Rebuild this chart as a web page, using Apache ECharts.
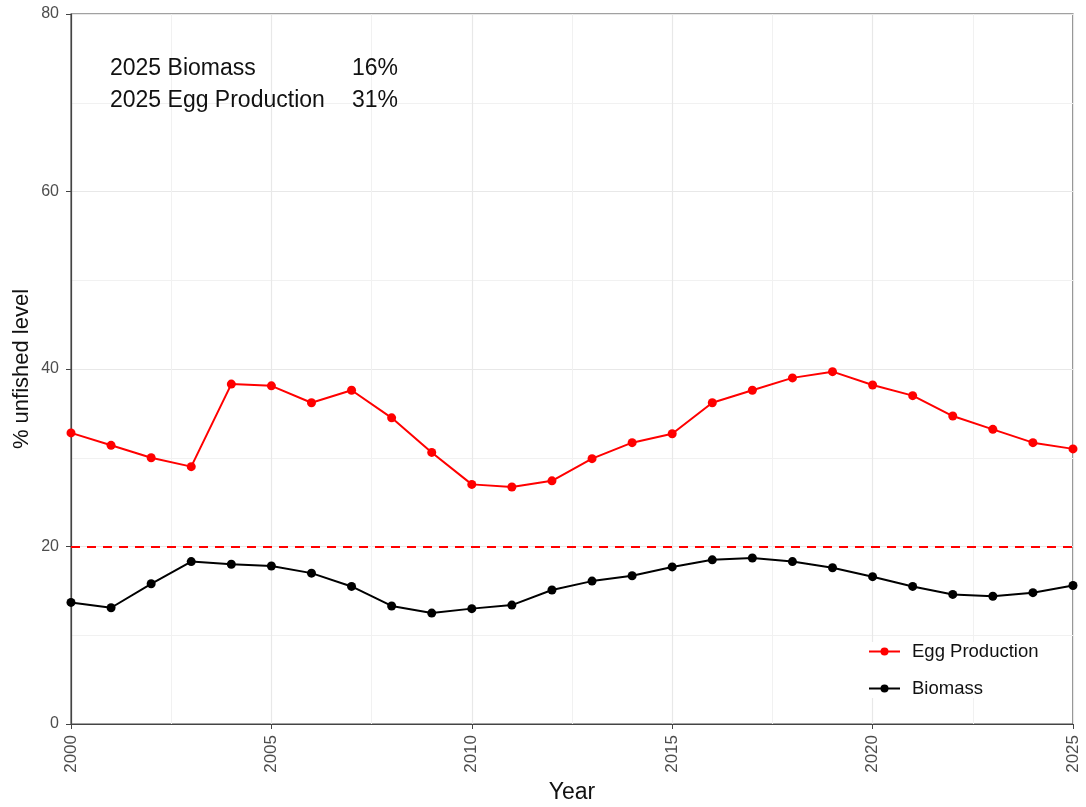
<!DOCTYPE html>
<html>
<head>
<meta charset="utf-8">
<script src="https://cdn.jsdelivr.net/npm/echarts@6/dist/echarts.min.js"></script>
<style>
  html, body { margin: 0; padding: 0; background: #fff; }
  #chart { width: 1086px; height: 807px; }
</style>
</head>
<body>
<div id="chart"></div>
<script>
// years and series
const years = [2000, 2001, 2002, 2003, 2004, 2005, 2006, 2007, 2008, 2009, 2010, 2011, 2012,
  2013, 2014, 2015, 2016, 2017, 2018, 2019, 2020, 2021, 2022, 2023, 2024, 2025];
const eggProduction = [32.8, 31.4, 30.0, 29.0, 38.3, 38.1, 36.2, 37.6, 34.5, 30.6, 27.0, 26.7, 27.4,
  29.9, 31.7, 32.7, 36.2, 37.6, 39.0, 39.7, 38.2, 37.0, 34.7, 33.2, 31.7, 31.0];
const biomass = [13.7, 13.1, 15.8, 18.3, 18.0, 17.8, 17.0, 15.5, 13.3, 12.5, 13.0, 13.4, 15.1,
  16.1, 16.7, 17.7, 18.5, 18.7, 18.3, 17.6, 16.6, 15.5, 14.6, 14.4, 14.8, 15.6];
const referenceLevel = 20;
const summaryLabels = ['2025 Biomass', '2025 Egg Production'];
const summaryValues = ['16%', '31%'];

const font = 'Liberation Sans, Arial, sans-serif';
const chart = echarts.init(document.getElementById('chart'));

function pairs(vals) {
  return years.map((y, i) => [y, vals[i]]);
}

const txt = (s, x, y, align) => ({
  type: 'text', x: x, y: y, z: 100,
  style: { text: s, font: '23px ' + font, fill: '#111', align: align, verticalAlign: 'middle' }
});

chart.setOption({
  animation: false,
  textStyle: { fontFamily: font },
  grid: {
    left: 71, right: 13, top: 14, bottom: 83,
    outerBoundsMode: 'none', containLabel: false,
    show: true, borderColor: '#444', borderWidth: 1.2, backgroundColor: '#fff'
  },
  xAxis: {
    type: 'value', min: 2000, max: 2025, interval: 5,
    name: 'Year', nameLocation: 'middle', nameGap: 57,
    nameTextStyle: { fontSize: 23, color: '#111', fontFamily: font },
    axisLine: { show: true, lineStyle: { color: '#444', width: 1.2 } },
    axisTick: { show: true, length: 5, lineStyle: { color: '#444' } },
    axisLabel: { rotate: 90, color: '#4d4d4d', fontSize: 17, margin: 11, fontFamily: font,
      formatter: v => String(v) },
    splitLine: { show: true, lineStyle: { color: '#e8e8e8', width: 1.2 } },
    minorTick: { show: false, splitNumber: 2 },
    minorSplitLine: { show: true, lineStyle: { color: '#f1f1f1', width: 1 } }
  },
  yAxis: {
    type: 'value', min: 0, max: 80, interval: 20,
    name: '% unfished level', nameLocation: 'middle', nameGap: 38, nameRotate: 90,
    nameMoveOverlap: false,
    nameTextStyle: { fontSize: 22, color: '#111', fontFamily: font },
    axisLine: { show: true, lineStyle: { color: '#444', width: 1.2 } },
    axisTick: { show: true, length: 5, lineStyle: { color: '#444' } },
    axisLabel: { color: '#4d4d4d', fontSize: 16, margin: 12, fontFamily: font },
    splitLine: { show: true, lineStyle: { color: '#e8e8e8', width: 1.2 } },
    minorTick: { show: false, splitNumber: 2 },
    minorSplitLine: { show: true, lineStyle: { color: '#f1f1f1', width: 1 } }
  },
  legend: {
    orient: 'vertical', left: 868, top: 642,
    itemWidth: 31, itemHeight: 10, itemGap: 18,
    backgroundColor: '#fff', padding: 0,
    textStyle: { fontSize: 18.5, color: '#111', fontFamily: font, padding: [0, 0, 0, 7] },
    data: ['Egg Production', 'Biomass']
  },
  graphic: [
    txt(summaryLabels[0], 110, 69, 'left'),
    txt(summaryLabels[1], 110, 101, 'left'),
    txt(summaryValues[0], 398, 69, 'right'),
    txt(summaryValues[1], 398, 101, 'right')
  ],
  series: [
    {
      name: 'Egg Production', type: 'line', data: pairs(eggProduction),
      symbol: 'circle', symbolSize: 9,
      itemStyle: { color: '#ff0000' },
      lineStyle: { color: '#ff0000', width: 2 },
      markLine: {
        silent: true, symbol: ['none', 'none'], label: { show: false },
        lineStyle: { color: '#ff0000', type: [9, 7], width: 2 },
        data: [{ yAxis: referenceLevel }]
      }
    },
    {
      name: 'Biomass', type: 'line', data: pairs(biomass),
      symbol: 'circle', symbolSize: 9,
      itemStyle: { color: '#000000' },
      lineStyle: { color: '#000000', width: 2 }
    }
  ]
});
</script>
</body>
</html>
